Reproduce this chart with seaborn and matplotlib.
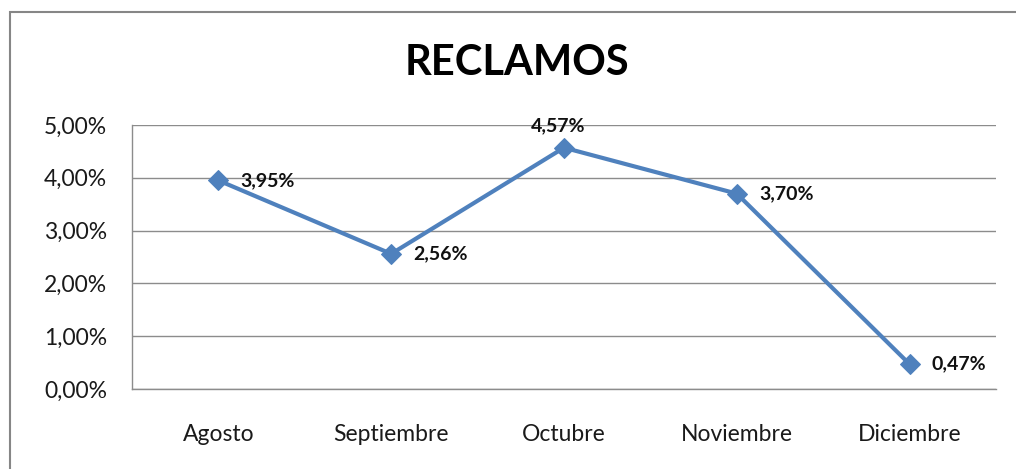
import matplotlib
matplotlib.use("Agg")
import matplotlib.pyplot as plt
import seaborn as sns
import pandas as pd
from matplotlib.patches import Rectangle

meses = ["Agosto", "Septiembre", "Octubre", "Noviembre", "Diciembre"]
reclamos = [3.95, 2.56, 4.57, 3.70, 0.47]
etiquetas = ["3,95%", "2,56%", "4,57%", "3,70%", "0,47%"]
yticks = [0, 1, 2, 3, 4, 5]
ytick_labels = ["0,00%", "1,00%", "2,00%", "3,00%", "4,00%", "5,00%"]

sns.set_style("white")
plt.rcParams["font.family"] = ["Lato", "DejaVu Sans"]

df = pd.DataFrame({"mes": meses, "valor": reclamos})

fig = plt.figure(figsize=(10.16, 4.69), dpi=100)
ax = fig.add_axes([132 / 1016, 80 / 469, 864 / 1016, 264 / 469])

color = "#4F81BD"
sns.lineplot(data=df, x="mes", y="valor", ax=ax, color=color, linewidth=3,
             marker="D", markersize=10, markeredgecolor=color, sort=False)

ax.set_xlim(-0.5, 4.5)
ax.set_ylim(0, 5)
ax.set_yticks(yticks)
ax.set_yticklabels(ytick_labels, fontsize=16.5, color="#1a1a1a")
ax.tick_params(axis="x", labelsize=16.5, colors="#1a1a1a", pad=25, length=0)
ax.tick_params(axis="y", pad=18, length=0)
ax.set_xlabel("")
ax.set_ylabel("")
ax.yaxis.grid(True, color="#8c8c8c", linewidth=1)
ax.set_axisbelow(True)
for s in ["top", "right"]:
    ax.spines[s].set_visible(False)
for s in ["left", "bottom"]:
    ax.spines[s].set_color("#8c8c8c")
    ax.spines[s].set_linewidth(1)

for i, (v, t) in enumerate(zip(reclamos, etiquetas)):
    if i == 2:
        ax.annotate(t, (i, v), xytext=(-4, 10), textcoords="offset points",
                    ha="center", va="bottom", fontsize=14, fontweight="bold",
                    color="#111111")
    else:
        ax.annotate(t, (i, v), xytext=(16, 0), textcoords="offset points",
                    ha="left", va="center", fontsize=14, fontweight="bold",
                    color="#111111")

fig.text(517 / 1016, 1 - 63 / 469, "RECLAMOS", ha="center", va="center",
         fontsize=30, fontweight="bold", color="#000000")

fig.patches.append(Rectangle((10 / 1016, -0.1), 1.1, 0.1 + (469 - 12) / 469,
                             transform=fig.transFigure, fill=False,
                             edgecolor="#868686", linewidth=1.5))

fig.savefig("out.png", dpi=100)
